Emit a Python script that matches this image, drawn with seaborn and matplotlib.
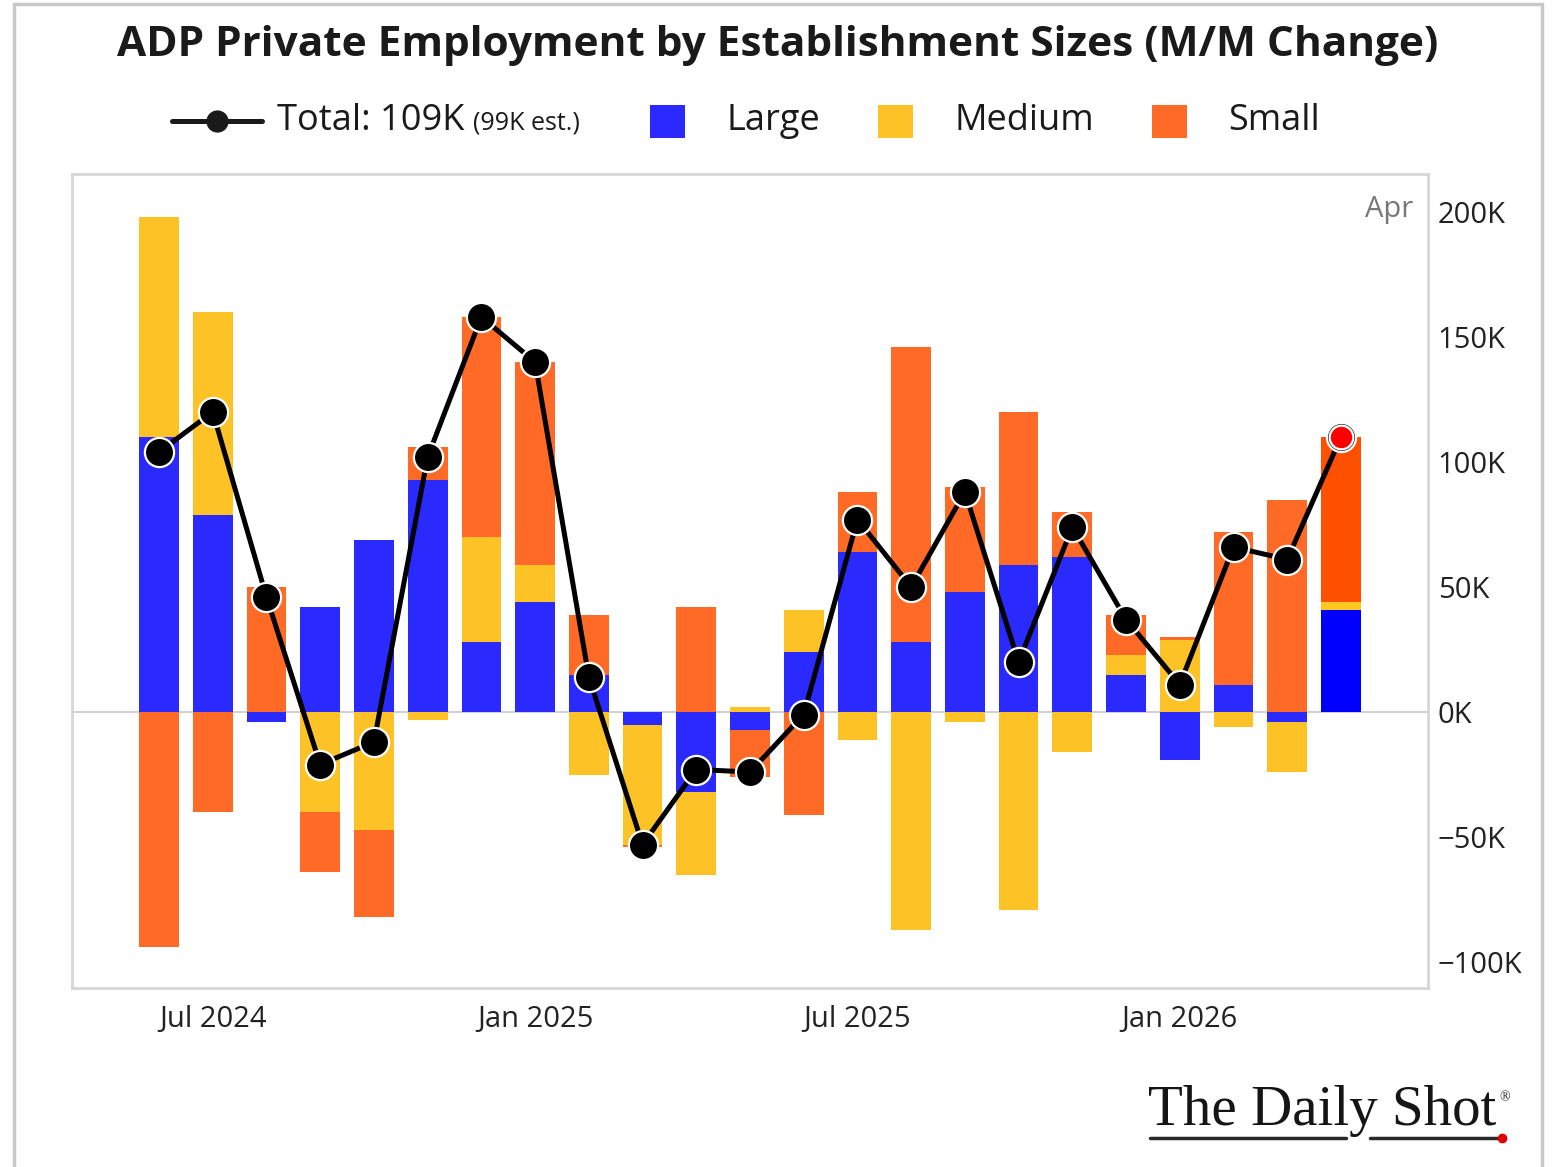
import numpy as np
import pandas as pd
import matplotlib
matplotlib.use("Agg")
import matplotlib.pyplot as plt
import seaborn as sns
from matplotlib.lines import Line2D
from matplotlib.patches import Rectangle

# ---------------- data (thousands of jobs, M/M change) ----------------
months = ["Jun 2024", "Jul 2024", "Aug 2024", "Sep 2024", "Oct 2024", "Nov 2024",
          "Dec 2024", "Jan 2025", "Feb 2025", "Mar 2025", "Apr 2025", "May 2025",
          "Jun 2025", "Jul 2025", "Aug 2025", "Sep 2025", "Oct 2025", "Nov 2025",
          "Dec 2025", "Jan 2026", "Feb 2026", "Mar 2026", "Apr 2026"]
large = [110, 79, -4, 42, 69, 93, 28, 44, 15, -5, -32, -7,
         24, 64, 28, 48, 59, 62, 15, -19, 11, -4, 41]
medium = [88, 81, 0, -40, -47, -3, 42, 15, -25, -48, -33, 2,
          17, -11, -87, -4, -79, -16, 8, 29, -6, -20, 3]
small = [-94, -40, 50, -24, -35, 13, 88, 81, 24, -1, 42, -19,
         -41, 24, 118, 42, 61, 18, 16, 1, 61, 85, 66]
total = [104, 120, 46, -21, -12, 102, 158, 140, 14, -53, -23, -24,
         -1, 77, 50, 88, 20, 74, 37, 11, 66, 61, 110]
xtick_pos = [1, 7, 13, 19]
xtick_labels = ["Jul 2024", "Jan 2025", "Jul 2025", "Jan 2026"]
ytick_vals = [-100, -50, 0, 50, 100, 150, 200]

series_names = ["Large", "Medium", "Small"]
base_colors = {"Large": "#2a2aff", "Medium": "#fdc226", "Small": "#ff6a26"}
last_colors = {"Large": "#0000ff", "Medium": "#ffc81e", "Small": "#ff5000"}

df = pd.DataFrame({"month": months, "Large": large, "Medium": medium,
                   "Small": small, "Total": total})
n = len(df)

sns.set_theme(style="white")
plt.rcParams["font.family"] = ["Open Sans", "DejaVu Sans"]

W, H = 1555, 1167
fig = plt.figure(figsize=(W / 100, H / 100), dpi=100)
fig.patch.set_facecolor("white")

def fx(x):
    return x / W

def fy(y):
    return 1 - y / H

ax = fig.add_axes([fx(72), fy(988), fx(1428) - fx(72), fy(174) - fy(988)])

# ---------------- stacked bars ----------------
pos_base = np.zeros(n)
neg_base = np.zeros(n)
for name in series_names:
    vals = df[name].to_numpy(dtype=float)
    bottom = np.where(vals >= 0, pos_base, neg_base)
    sns.barplot(data=df, x="month", y=name, order=months, ax=ax,
                color=base_colors[name], saturation=1, width=0.74,
                errorbar=None, linewidth=0, bottom=bottom, zorder=2)
    ax.patches[-1].set_facecolor(last_colors[name])
    pos_base += np.where(vals > 0, vals, 0)
    neg_base += np.where(vals < 0, vals, 0)

ax.axhline(0, color="#cccccc", lw=1.3, zorder=1)

# ---------------- total line ----------------
xpos = np.arange(n)
sns.lineplot(x=xpos, y=df["Total"], ax=ax, color="black", lw=3.6,
             marker="o", markersize=21, markerfacecolor="black",
             markeredgecolor="white", markeredgewidth=1.6, zorder=5)
sns.scatterplot(x=xpos[-1:], y=df["Total"].to_numpy()[-1:], ax=ax, color="#ff0000",
                s=17 ** 2, edgecolor="white", linewidth=1.6, zorder=6)

# ---------------- axes styling ----------------
ax.set_xlim(-1.62, 23.62)
ax.set_ylim(-110.4, 215.2)
ax.set_xticks(xtick_pos)
ax.set_xticklabels(xtick_labels)
ax.yaxis.tick_right()
ax.set_yticks(ytick_vals)
ax.set_yticklabels([(f"{v}K" if v >= 0 else f"\u2212{-v}K") for v in ytick_vals])
ax.tick_params(axis="x", length=0, labelsize=21, pad=12, labelcolor="#222222")
ax.tick_params(axis="y", length=0, labelsize=21, pad=7, labelcolor="#222222")
ax.set_xlabel("")
ax.set_ylabel("")
ax.grid(False)
for sp in ax.spines.values():
    sp.set_visible(True)
    sp.set_color("#d6d6d6")
    sp.set_linewidth(2)

ax.text(0.989, 0.956, "Apr", transform=ax.transAxes, ha="right", va="center",
        fontsize=21, color="#777777")

# ---------------- title ----------------
fig.text(0.5, fy(46), "ADP Private Employment by Establishment Sizes (M/M Change)",
         ha="center", va="center", fontsize=30.5, fontweight="bold", color="#1a1a1a")

# ---------------- legend (manual layout) ----------------
ly = fy(121)
fig.add_artist(Line2D([fx(172), fx(262)], [ly, ly], transform=fig.transFigure,
                      color="#1a1a1a", lw=3.6))
fig.add_artist(Line2D([fx(217)], [ly], transform=fig.transFigure, marker="o",
                      markersize=16, color="#1a1a1a", markeredgecolor="white",
                      markeredgewidth=0))
t_total = fig.text(fx(277), ly, "Total: 109K", ha="left", va="center",
                   fontsize=26, color="#1a1a1a")
fig.canvas.draw()
renderer = fig.canvas.get_renderer()
bb = t_total.get_window_extent(renderer=renderer)
fig.text(fx(bb.x1 + 9), ly - 0.002, "(99K est.)", ha="left", va="center",
         fontsize=18, color="#1a1a1a")

sq_w, sq_h = 35, 33
for xs, xt, name in [(650, 727, "Large"), (878, 955, "Medium"), (1152, 1228, "Small")]:
    fig.add_artist(Rectangle((fx(xs), fy(121 + sq_h / 2)), fx(sq_w), sq_h / H,
                             transform=fig.transFigure, facecolor=base_colors[name],
                             edgecolor="none"))
    fig.text(fx(xt), ly, name, ha="left", va="center", fontsize=26, color="#1a1a1a")

# ---------------- watermark ----------------
serif = ["Liberation Serif", "DejaVu Serif"]
t_ds = fig.text(fx(1148), fy(1111), "The Daily Shot", ha="left", va="center",
                fontsize=41, family=serif, color="#151515")
fig.canvas.draw()
bb2 = t_ds.get_window_extent(renderer=fig.canvas.get_renderer())
fig.text(fx(bb2.x1 + 3), fy(1098), "\u00ae", ha="left", va="center", fontsize=10,
         family=serif, color="#1f1f1f")
for x0, x1 in [(1150, 1346), (1370, 1500)]:
    fig.add_artist(Line2D([fx(x0), fx(x1)], [fy(1138), fy(1138)],
                          transform=fig.transFigure, color="#2a2a2a", lw=2.5))
fig.add_artist(Line2D([fx(1502)], [fy(1138)], transform=fig.transFigure, marker="o",
                      markersize=6, color="#e00000"))

# ---------------- outer frame ----------------
fig.add_artist(Rectangle((fx(14), -0.01), fx(1542) - fx(14), fy(4) + 0.01,
                         transform=fig.transFigure, fill=False,
                         edgecolor="#c8c8c8", lw=2.5))

fig.savefig("out.png", dpi=100, facecolor="white")
